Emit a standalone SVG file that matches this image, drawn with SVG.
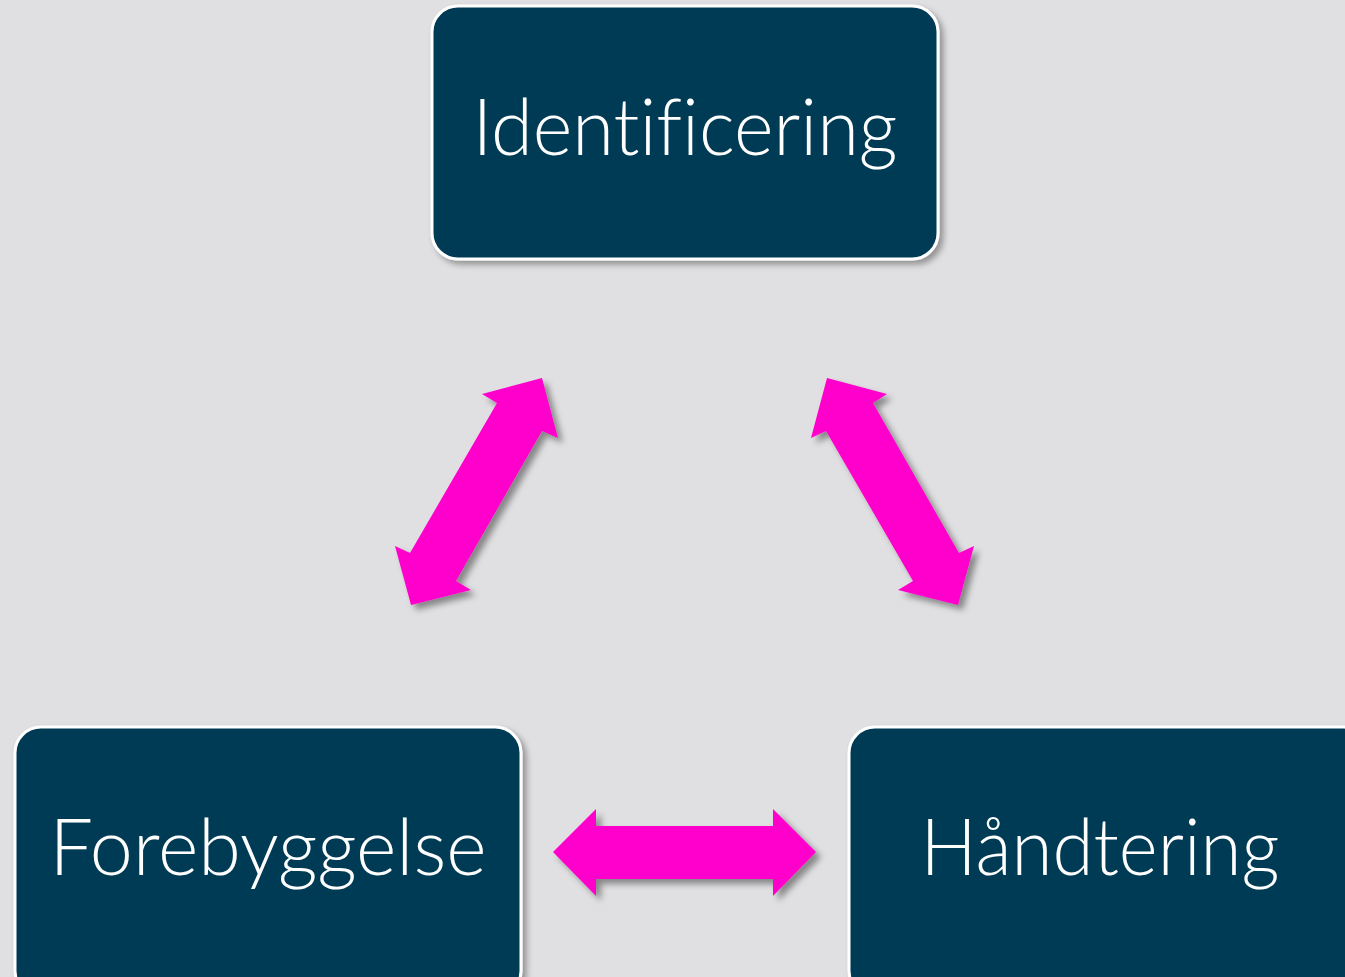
<svg xmlns="http://www.w3.org/2000/svg" width="1345" height="977" viewBox="0 0 1345 977">
<defs>
<style>
.box{fill:#003a55;stroke:#ffffff;stroke-width:3}
.lbl{fill:#ffffff;font-family:Lato,"Open Sans","Liberation Sans",sans-serif;font-weight:300;font-size:78px;font-variant-ligatures:none;font-feature-settings:"liga" 0,"clig" 0}
.arr{fill:#ff00cc}
</style>
<filter id="sh" x="-10%" y="-10%" width="130%" height="130%">
<feDropShadow dx="4" dy="4" stdDeviation="3" flood-color="#000" flood-opacity="0.35"/>
</filter>
<filter id="sha" x="-20%" y="-20%" width="150%" height="150%">
<feDropShadow dx="5" dy="5" stdDeviation="3" flood-color="#000" flood-opacity="0.4"/>
</filter>
</defs>
<rect width="1345" height="977" fill="#e0e0e2"/>
<g id="connectors">
<polygon class="arr" filter="url(#sha)" points="542,378 558,438 542,431 456,581 471,590 411,605 395,546 410,553 497,403 482,394"/>
<polygon class="arr" filter="url(#sha)" points="827,378 887,394 873,403 959,553 974,546 958,605 898,590 913,581 826,431 811,438"/>
<polygon class="arr" filter="url(#sha)" points="553,852 596,809 596,826 773,826 773,809 816,852 773,896 773,879 596,879 596,896"/>
</g>
<g id="node-identificering">
<rect class="box" filter="url(#sh)" x="432" y="6" width="506" height="253" rx="26"/>
<text class="lbl" x="685" y="155" text-anchor="middle" textLength="425" lengthAdjust="spacingAndGlyphs">Identificering</text>
</g>
<g id="node-forebyggelse">
<rect class="box" filter="url(#sh)" x="15" y="727" width="506" height="270" rx="26"/>
<text class="lbl" x="268" y="875" text-anchor="middle" textLength="437" lengthAdjust="spacingAndGlyphs">Forebyggelse</text>
</g>
<g id="node-handtering">
<rect class="box" filter="url(#sh)" x="849" y="727" width="520" height="270" rx="26"/>
<text class="lbl" x="1100" y="875" text-anchor="middle" textLength="359" lengthAdjust="spacingAndGlyphs">Håndtering</text>
</g>
</svg>
